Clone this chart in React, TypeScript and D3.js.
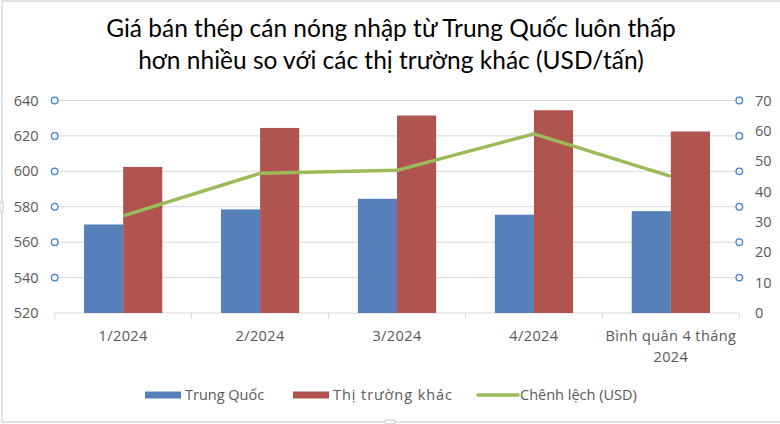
import React from "react";
import * as d3 from "d3";

const categories = ["1/2024", "2/2024", "3/2024", "4/2024", "Bình quân 4 tháng 2024"];
const categoryLines = [["1/2024"], ["2/2024"], ["3/2024"], ["4/2024"], ["Bình quân 4 tháng", "2024"]];
const trungQuoc = [570, 578.5, 584.5, 575.5, 577.5];
const thiTruongKhac = [602.5, 624.5, 631.5, 634.5, 622.5];
const chenhLech = [32, 46, 47, 59, 45];
const leftTicks = [520, 540, 560, 580, 600, 620, 640];
const rightTicks = [0, 10, 20, 30, 40, 50, 60, 70];
const titleLines = [
  "Giá bán thép cán nóng nhập từ Trung Quốc luôn thấp",
  "hơn nhiều so với các thị trường khác (USD/tấn)",
];
const legendItems = ["Trung Quốc", "Thị trường khác", "Chênh lệch (USD)"];

const W = 780;
const H = 424;
const BLUE = "#5680B9";
const RED = "#B0544F";
const GREEN = "#9BBB59";
const GRID = "#D9D9D9";
const TXT = "#595959";
const AXIS_FONT = "'Open Sans', sans-serif";

export default function App() {
  const left = 54.7;
  const right = 739.3;
  const top = 100.5;
  const bottom = 313;

  const x = d3.scaleBand<string>().domain(categories).range([left, right]).paddingInner(0).paddingOuter(0);
  const yL = d3.scaleLinear().domain([520, 640]).range([bottom, top]);
  const yR = d3.scaleLinear().domain([0, 70]).range([bottom, top]);
  const bw = x.bandwidth();
  const barW = bw / 3.5;

  const line = d3
    .line<number>()
    .x((_, i) => (x(categories[i]) as number) + bw / 2)
    .y((d) => yR(d));

  const boundaries = categories.map((c) => x(c) as number).concat([right]);

  return (
    <div style={{ position: "absolute", left: 0, top: 0 }}>
      <svg width={W} height={H} style={{ display: "block", background: "#fff" }}>
        {/* chart border */}
        <rect x={2} y={1} width={W + 10} height={H - 3} fill="#fff" stroke="#C8C8C8" strokeWidth={1} />
        <rect x={0} y={202} width={3} height={10} rx={1} fill="#fff" stroke="#C8C8C8" strokeWidth={1} />
        <rect x={385} y={420} width={10} height={4} rx={1} fill="#fff" stroke="#C8C8C8" strokeWidth={1} />

        {/* title */}
        <g fontFamily="Lato, sans-serif" fontSize={24.5} fill="#000" textAnchor="middle">
          {titleLines.map((t, i) => (
            <text key={i} x={391} y={37 + i * 32}>
              {t}
            </text>
          ))}
        </g>

        {/* gridlines */}
        {leftTicks.map((t) => (
          <line key={t} x1={left} x2={right} y1={yL(t)} y2={yL(t)} stroke={GRID} strokeWidth={1} />
        ))}

        {/* x axis ticks */}
        {boundaries.map((b, i) => (
          <line key={i} x1={b} x2={b} y1={bottom} y2={bottom + 6} stroke={GRID} strokeWidth={1} />
        ))}

        {/* bars */}
        {categories.map((c, i) => {
          const x0 = (x(c) as number) + barW * 0.75;
          return (
            <g key={c}>
              <rect x={x0} y={yL(trungQuoc[i])} width={barW} height={bottom - yL(trungQuoc[i])} fill={BLUE} />
              <rect x={x0 + barW} y={yL(thiTruongKhac[i])} width={barW} height={bottom - yL(thiTruongKhac[i])} fill={RED} />
            </g>
          );
        })}

        {/* line */}
        <path d={line(chenhLech) || ""} fill="none" stroke={GREEN} strokeWidth={3.5} strokeLinejoin="round" />

        {/* selection handles */}
        {leftTicks.slice(1).map((t) => (
          <g key={t}>
            <circle cx={left} cy={yL(t)} r={3.3} fill="#fff" stroke="#3D7FDB" strokeWidth={1.3} />
            <circle cx={right} cy={yL(t)} r={3.3} fill="#fff" stroke="#3D7FDB" strokeWidth={1.3} />
          </g>
        ))}

        {/* left axis labels */}
        <g fontFamily={AXIS_FONT} fontSize={14.5} fill={TXT} textAnchor="end">
          {leftTicks.map((t) => (
            <text key={t} x={38.5} y={yL(t)} dy="0.35em">
              {t}
            </text>
          ))}
        </g>

        {/* right axis labels */}
        <g fontFamily={AXIS_FONT} fontSize={14.5} fill={TXT} textAnchor="start">
          {rightTicks.map((t) => (
            <text key={t} x={755} y={yR(t)} dy="0.35em">
              {t}
            </text>
          ))}
        </g>

        {/* x labels */}
        <g fontFamily={AXIS_FONT} fontSize={14.5} fill={TXT} textAnchor="middle" letterSpacing={0.4}>
          {categories.map((c, i) =>
            categoryLines[i].map((l, j) => (
              <text key={c + j} x={(x(c) as number) + bw / 2} y={336 + j * 21} dy="0.35em">
                {l}
              </text>
            ))
          )}
        </g>

        {/* legend */}
        <g fontFamily={AXIS_FONT} fontSize={14.5} fill={TXT}>
          <rect x={145} y={391.5} width={36} height={7} fill={BLUE} />
          <text x={185} y={395} dy="0.35em">{legendItems[0]}</text>
          <rect x={293} y={391.5} width={36} height={7} fill={RED} />
          <text x={333} y={395} dy="0.35em" textLength={119}>{legendItems[1]}</text>
          <line x1={478} x2={518} y1={395} y2={395} stroke={GREEN} strokeWidth={3.5} strokeLinecap="round" />
          <text x={520} y={395} dy="0.35em">{legendItems[2]}</text>
        </g>
      </svg>
    </div>
  );
}
